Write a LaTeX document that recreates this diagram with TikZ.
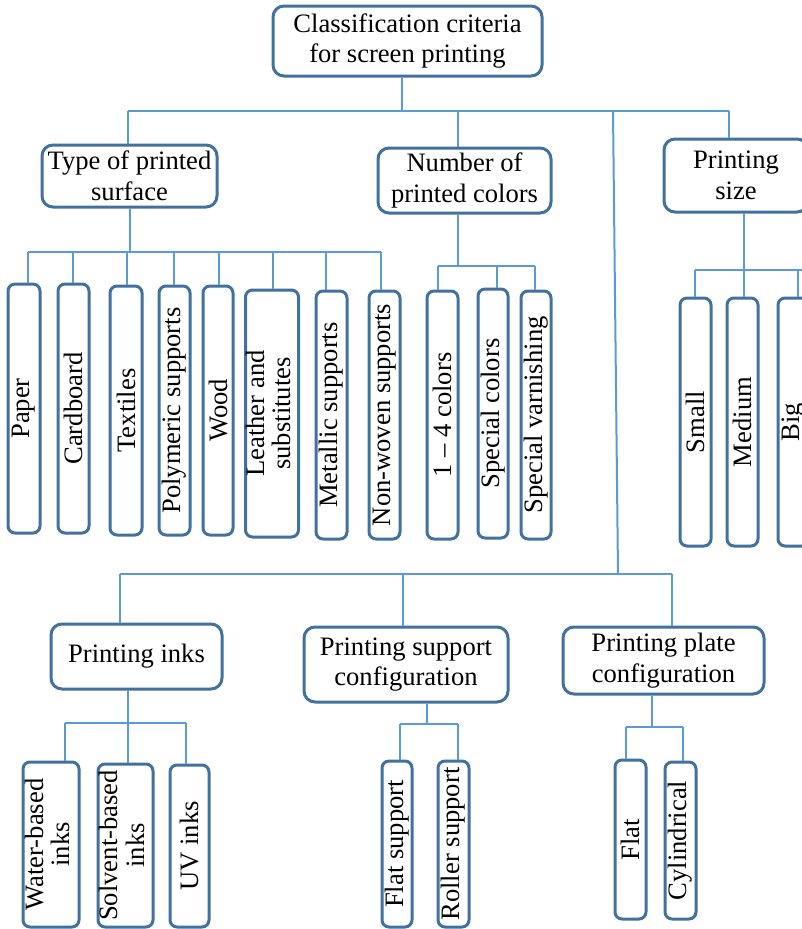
\documentclass[tikz,border=0pt]{standalone}
\usepackage{fontspec}
\setmainfont{Liberation Serif}
\usepackage{graphicx}
\definecolor{bdr}{RGB}{65,113,156}
\definecolor{conn}{RGB}{91,155,213}
\newcommand{\vtext}[1]{\rotatebox{90}{#1}}
\newcommand{\vtwo}[2]{\rotatebox{90}{\fontsize{26.6}{26.5}\selectfont\begin{tabular}{@{}c@{}}#1\\#2\end{tabular}}}
\tikzset{
  catbox/.style={draw=bdr, line width=3pt, rounded corners=11pt, inner sep=0pt, align=center,
    font=\fontsize{26.6}{30.5}\selectfont, fill=white},
  leaf/.style={draw=bdr, line width=3pt, rounded corners=7pt, inner sep=0pt,
    font=\fontsize{26.6}{26.5}\selectfont, fill=white},
  conn/.style={draw=conn, line width=2pt}
}
\begin{document}
\begin{tikzpicture}[x=1pt, y=-1pt]
\useasboundingbox (0,0) rectangle (802,929);
\clip (0,0) rectangle (802,929);
\fill[white] (0,0) rectangle (802,929);

% connectors first
\coordinate (r0) at (402,111);
\coordinate (r1) at (128,111);
\coordinate (r2) at (458,111);
\coordinate (r3) at (613,111);
\coordinate (r4) at (729,111);
\coordinate (b0) at (618,574);
\coordinate (b1) at (120,574);
\coordinate (b2) at (403,574);
\coordinate (b3) at (672,574);

% category boxes
\node[catbox, minimum width=269pt, minimum height=70pt] (root) at (407.5,41) {Classification criteria\\for screen printing};
\node[catbox, minimum width=175pt, minimum height=62pt] (type) at (129.5,176) {Type of printed\\surface};
\node[catbox, minimum width=173pt, minimum height=65pt] (num) at (464.5,180.5) {Number of\\printed colors};
\node[catbox, minimum width=144pt, minimum height=73pt] (size) at (736,175.5) {Printing\\size};
\node[catbox, minimum width=171pt, minimum height=65pt] (inks) at (136.5,656.5) {Printing inks};
\node[catbox, minimum width=204pt, minimum height=75pt] (sup) at (406,664.5) {Printing support\\configuration};
\node[catbox, minimum width=201pt, minimum height=67pt] (plate) at (663.5,660.5) {Printing plate\\configuration};

% leaves
\node[leaf, minimum width=32pt, minimum height=249pt] (paper) at (24,408.5) {\vtext{Paper}};
\node[leaf, minimum width=31pt, minimum height=249pt] (card) at (73.5,408.5) {\vtext{Cardboard}};
\node[leaf, minimum width=32pt, minimum height=249pt] (text) at (126,410.5) {\vtext{Textiles}};
\node[leaf, minimum width=31pt, minimum height=249pt] (poly) at (174.5,410.5) {\vtext{Polymeric supports}};
\node[leaf, minimum width=30pt, minimum height=249pt] (wood) at (218,410.5) {\vtext{Wood}};
\node[leaf, minimum width=50pt, minimum height=247pt] (leather) at (272,413.5) {\vtwo{Leather and}{substitutes}};
\node[leaf, minimum width=31pt, minimum height=248pt] (metal) at (331.5,415) {\vtext{Metallic supports}};
\node[leaf, minimum width=31pt, minimum height=248pt] (nonwov) at (384.5,415) {\vtext{Non-woven supports}};
\node[leaf, minimum width=31pt, minimum height=248pt] (c14) at (442.5,415) {\vtext{1 – 4 colors}};
\node[leaf, minimum width=30pt, minimum height=249pt] (spcol) at (493,413.5) {\vtext{Special colors}};
\node[leaf, minimum width=30pt, minimum height=248pt] (spvar) at (536,415) {\vtext{Special varnishing}};
\node[leaf, minimum width=31pt, minimum height=248pt] (small) at (695.5,422) {\vtext{Small}};
\node[leaf, minimum width=31pt, minimum height=248pt] (medium) at (742.5,422) {\vtext{Medium}};
\node[leaf, minimum width=31pt, minimum height=248pt] (big) at (793.5,422) {\vtext{Big}};
\node[leaf, minimum width=56pt, minimum height=165pt] (water) at (51,844.5) {\vtwo{Water-based}{inks}};
\node[leaf, minimum width=55pt, minimum height=163pt] (solv) at (125.5,845.5) {\vtwo{Solvent-based}{inks}};
\node[leaf, minimum width=39pt, minimum height=162pt] (uv) at (189.5,846) {\vtext{UV inks}};
\node[leaf, minimum width=30pt, minimum height=166pt] (flatsup) at (397,844) {\vtext{Flat support}};
\node[leaf, minimum width=31pt, minimum height=166pt] (roller) at (453.5,844) {\vtext{Roller support}};
\node[leaf, minimum width=31pt, minimum height=159pt] (flat) at (630.5,839.5) {\vtext{Flat}};
\node[leaf, minimum width=31pt, minimum height=157pt] (cyl) at (680.5,840.5) {\vtext{Cylindrical}};

% top level
\draw[conn] (root.south -| r0) -- (r0);
\draw[conn] (r1) -- (r4);
\draw[conn] (r1) -- (r1 |- type.north);
\draw[conn] (r2) -- (r2 |- num.north);
\draw[conn] (r4) -- (r4 |- size.north);
\draw[conn] (r3) -- (b0);
\draw[conn] (b1) -- (b3);
\draw[conn] (b1) -- (b1 |- inks.north);
\draw[conn] (b2) -- (b2 |- sup.north);
\draw[conn] (b3) -- (b3 |- plate.north);

% type of printed surface
\coordinate (t0) at (130,252);
\coordinate (t1) at (28,252);
\coordinate (t2) at (73,252);
\coordinate (t3) at (127,252);
\coordinate (t4) at (174,252);
\coordinate (t5) at (219,252);
\coordinate (t6) at (273,252);
\coordinate (t7) at (326,252);
\coordinate (t8) at (381,252);
\draw[conn] (t0 |- type.south) -- (t0);
\draw[conn] (t1) -- (t8);
\draw[conn] (t1) -- (t1 |- paper.north);
\draw[conn] (t2) -- (t2 |- card.north);
\draw[conn] (t3) -- (t3 |- text.north);
\draw[conn] (t4) -- (t4 |- poly.north);
\draw[conn] (t5) -- (t5 |- wood.north);
\draw[conn] (t6) -- (t6 |- leather.north);
\draw[conn] (t7) -- (t7 |- metal.north);
\draw[conn] (t8) -- (t8 |- nonwov.north);

% number of colors
\coordinate (n0) at (458,266);
\coordinate (n1) at (438,266);
\coordinate (n2) at (497,266);
\coordinate (n3) at (535,266);
\draw[conn] (n0 |- num.south) -- (n0);
\draw[conn] (n1) -- (n3);
\draw[conn] (n1) -- (n1 |- c14.north);
\draw[conn] (n2) -- (n2 |- spcol.north);
\draw[conn] (n3) -- (n3 |- spvar.north);

% printing size
\coordinate (s1) at (695,270);
\coordinate (s2) at (744,270);
\coordinate (s3) at (798,270);
\coordinate (sR) at (806,270);
\draw[conn] (s2 |- size.south) -- (s2 |- medium.north);
\draw[conn] (s1) -- (sR);
\draw[conn] (s1) -- (s1 |- small.north);
\draw[conn] (s3) -- (s3 |- big.north);

% inks
\coordinate (i1) at (65,723);
\coordinate (i2) at (128,723);
\coordinate (i3) at (186,723);
\draw[conn] (i2 |- inks.south) -- (i2 |- solv.north);
\draw[conn] (i1) -- (i3);
\draw[conn] (i1) -- (i1 |- water.north);
\draw[conn] (i3) -- (i3 |- uv.north);

% support
\coordinate (u0) at (427,724);
\coordinate (u1) at (400,724);
\coordinate (u2) at (458,724);
\draw[conn] (u0 |- sup.south) -- (u0);
\draw[conn] (u1) -- (u2);
\draw[conn] (u1) -- (u1 |- flatsup.north);
\draw[conn] (u2) -- (u2 |- roller.north);

% plate
\coordinate (q0) at (652,727);
\coordinate (q1) at (626,727);
\coordinate (q2) at (683,727);
\draw[conn] (q0 |- plate.south) -- (q0);
\draw[conn] (q1) -- (q2);
\draw[conn] (q1) -- (q1 |- flat.north);
\draw[conn] (q2) -- (q2 |- cyl.north);
\end{tikzpicture}
\end{document}
